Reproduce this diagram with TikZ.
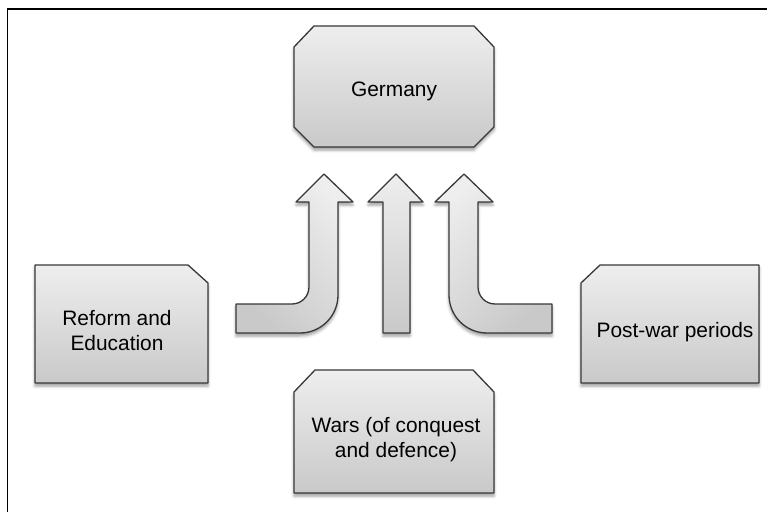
\documentclass[tikz,border=0pt]{standalone}
\usepackage{fontspec}
\setmainfont{Liberation Sans}
\usetikzlibrary{shadows.blur}

\definecolor{edge}{HTML}{383838}
\definecolor{shadeTop}{HTML}{EEEEEE}
\definecolor{shadeBot}{HTML}{C9C9C9}

\tikzset{
  softshadow/.style={blur shadow={shadow xshift=0bp, shadow yshift=-3bp,
      shadow blur radius=3bp, shadow opacity=40}},
  panel/.style={draw=edge, line width=1.3bp, line join=round,
      top color=shadeTop, bottom color=shadeBot, softshadow},
  blockarrow/.style={panel},
  boxtext/.style={font=\fontsize{20.9bp}{25bp}\selectfont, text=black,
      align=center, inner sep=0pt, anchor=base},
  frameline/.style={draw=black, line width=1.4bp},
}

\begin{document}
\begin{tikzpicture}[x=1bp, y=-1bp]
  \useasboundingbox (0,0) rectangle (767,512);

  % outer frame (runs off the right and bottom edges)
  \draw[frameline] (7.5,530) -- (7.5,9) -- (790,9);

  % Germany: octagonal panel
  \draw[panel] (314,26) -- (474,26) -- (494,47) -- (494,127) -- (474,147)
               -- (314,147) -- (294,127) -- (294,47) -- cycle;
  % Reform and Education: top-right corner cut
  \draw[panel] (35,265) -- (188,265) -- (208,283) -- (208,383) -- (35,383) -- cycle;
  % Post-war periods: top-left corner cut
  \draw[panel] (600,265) -- (759,265) -- (759,383) -- (581,383) -- (581,283) -- cycle;
  % Wars: both top corners cut
  \draw[panel] (315,370) -- (473,370) -- (494,392) -- (494,493) -- (294,493)
               -- (294,392) -- cycle;

  % left bent arrow
  \draw[blockarrow, shading angle=-45]
    (236,304) -- (292,304) .. controls (301.4,304) and (309,296.4) .. (309,287)
    -- (309,202) -- (296,202) -- (324,174) -- (353,202) -- (338,202)
    -- (338,295) .. controls (338,316) and (321,333) .. (300,333)
    -- (236,333) -- cycle;
  % straight middle arrow
  \draw[blockarrow]
    (383,333) -- (383,202) -- (368,202) -- (396,174) -- (423,202)
    -- (410,202) -- (410,333) -- cycle;
  % right bent arrow
  \draw[blockarrow, shading angle=45]
    (552,304) -- (495,304) .. controls (485.6,304) and (478,296.4) .. (478,287)
    -- (478,202) -- (493,202) -- (464,174) -- (435,202) -- (449,202)
    -- (449,295) .. controls (449,316) and (466,333) .. (487,333)
    -- (552,333) -- cycle;

  % labels (two-line labels are placed by their last baseline)
  \node[boxtext] (germany) at (394,97) {Germany};
  \node[boxtext] (reform) at (117,350) {Reform and\\Education};
  \node[boxtext] (postwar) at (675,337) {Post-war periods};
  \node[boxtext] (wars) at (396,457) {Wars (of conquest\\and defence)};
\end{tikzpicture}
\end{document}
